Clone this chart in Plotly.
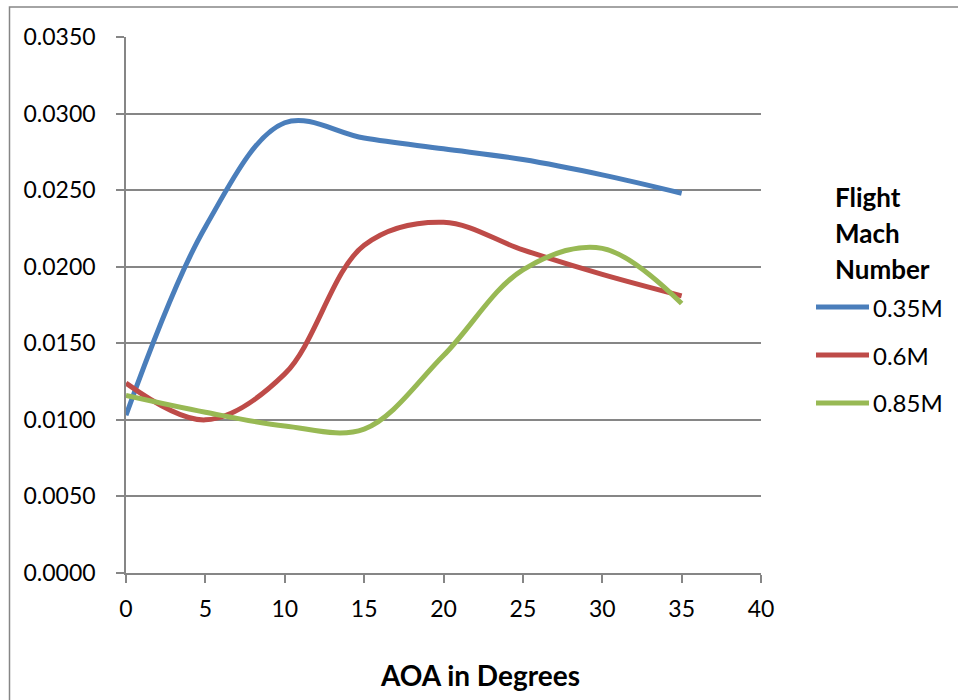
import plotly.graph_objects as go

# Angle of attack (degrees) and coefficient values per flight Mach number
aoa = [0, 5, 10, 15, 20, 25, 30, 35]
mach_035 = [0.0103, 0.0226, 0.0294, 0.0284, 0.0277, 0.0270, 0.0260, 0.0248]
mach_060 = [0.0124, 0.0100, 0.0130, 0.0214, 0.0229, 0.0211, 0.0195, 0.0181]
mach_085 = [0.0116, 0.0105, 0.0096, 0.0094, 0.0142, 0.0198, 0.0212, 0.0176]

series_names = ["0.35M", "0.6M", "0.85M"]
series_values = [mach_035, mach_060, mach_085]
series_colors = ["#4A7EBB", "#BE4B48", "#98B954"]

legend_title_lines = ["Flight", "Mach", "Number"]
x_title = "AOA in Degrees"

FONT = "Lato"
GRID = "#868686"

# plot area geometry (pixels)
W, H = 958, 700
L, R, T, B = 126, 197, 37, 127
pw, ph = W - L - R, H - T - B


def px_x(px):
    return (px - L) / pw


def px_y(py):
    return (H - B - py) / ph


fig = go.Figure()
for name, vals, col in zip(series_names, series_values, series_colors):
    fig.add_trace(go.Scatter(
        x=aoa, y=vals, name=name, mode="lines",
        line=dict(color=col, width=5, shape="spline", smoothing=1.0),
        showlegend=False,
    ))

annotations = [
    dict(text=f"<b>{x_title}</b>", x=px_x(480), y=px_y(675), xref="paper", yref="paper",
         showarrow=False, xanchor="center", yanchor="middle",
         font=dict(family=FONT, size=28, color="black")),
]
for k, line in enumerate(legend_title_lines):
    annotations.append(dict(
        text=f"<b>{line}</b>", x=px_x(833), y=px_y(197 + 36 * k), xref="paper", yref="paper",
        showarrow=False, xanchor="left", yanchor="middle",
        font=dict(family=FONT, size=26, color="black")))

# legend key: a line sample and a label for each series
shapes = [dict(type="rect", xref="paper", yref="paper",
               x0=px_x(9.5), x1=px_x(962), y0=px_y(7), y1=px_y(710),
               line=dict(color=GRID, width=1.5), layer="below")]
for k, (name, col) in enumerate(zip(series_names, series_colors)):
    yk = px_y(307 + 48 * k)
    shapes.append(dict(type="line", xref="paper", yref="paper",
                       x0=px_x(816), x1=px_x(869), y0=yk, y1=yk,
                       line=dict(color=col, width=5)))
    annotations.append(dict(
        text=name, x=px_x(871), y=yk, xref="paper", yref="paper",
        showarrow=False, xanchor="left", yanchor="middle",
        font=dict(family=FONT, size=24, color="black")))

fig.update_layout(
    width=W, height=H,
    margin=dict(l=L, r=R, t=T, b=B),
    paper_bgcolor="white", plot_bgcolor="white",
    font=dict(family=FONT, size=23, color="black"),
    showlegend=False,
    annotations=annotations,
    shapes=shapes,
)

fig.update_xaxes(
    range=[0, 40], dtick=5, tick0=0,
    showgrid=False, zeroline=False,
    showline=True, linecolor=GRID, linewidth=1.5,
    ticks="outside", ticklen=8, tickcolor=GRID, tickwidth=1.5,
    ticklabelstandoff=7,
    tickfont=dict(family=FONT, size=23, color="black"),
)
fig.update_yaxes(
    range=[0, 0.035], dtick=0.005, tick0=0, tickformat=".4f",
    showgrid=True, gridcolor=GRID, gridwidth=1.5, zeroline=False,
    showline=True, linecolor=GRID, linewidth=1.5,
    ticks="outside", ticklen=8, tickcolor=GRID, tickwidth=1.5,
    ticklabelstandoff=16,
    tickfont=dict(family=FONT, size=23, color="black"),
)

fig.write_html("out.html")
